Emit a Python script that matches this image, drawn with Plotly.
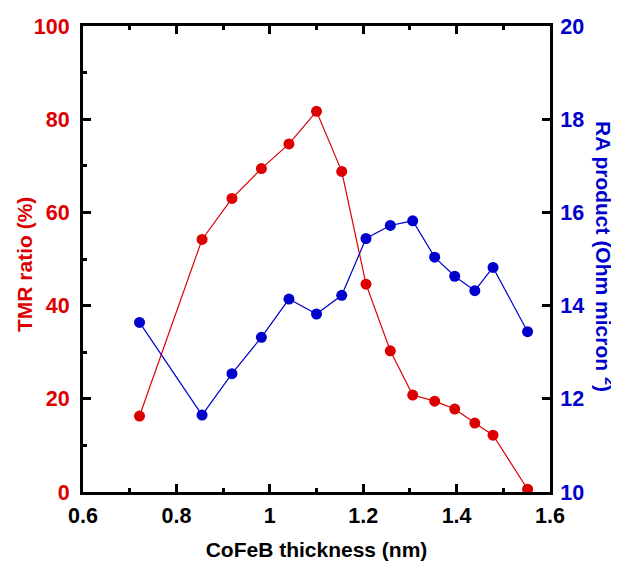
import plotly.graph_objects as go

thickness = [0.721, 0.855, 0.919, 0.982, 1.041, 1.100, 1.154, 1.206, 1.258, 1.306, 1.353, 1.396, 1.439, 1.478, 1.552]
tmr = [16.3, 54.2, 63.0, 69.4, 74.7, 81.7, 68.8, 44.6, 30.3, 20.8, 19.5, 17.8, 14.8, 12.2, 0.6]
ra = [13.64, 11.65, 12.54, 13.32, 14.14, 13.82, 14.22, 15.44, 15.72, 15.82, 15.04, 14.63, 14.32, 14.82, 13.44]
x_ticks = [0.6, 0.8, 1.0, 1.2, 1.4, 1.6]
x_labels = ["0.6", "0.8", "1", "1.2", "1.4", "1.6"]
y_ticks = [0, 20, 40, 60, 80, 100]
y2_ticks = [10, 12, 14, 16, 18, 20]

RED = "rgb(221,0,0)"
BLUE = "rgb(0,0,204)"
FONT = "Liberation Sans, Arial, sans-serif"
TICK_SIZE = 21.5
TITLE_SIZE = 21

fig = go.Figure()
fig.add_trace(go.Scatter(x=thickness, y=tmr, mode="lines+markers",
                         line=dict(color=RED, width=1.2),
                         marker=dict(color=RED, size=11), showlegend=False))
fig.add_trace(go.Scatter(x=thickness, y=ra, mode="lines+markers", yaxis="y2",
                         line=dict(color=BLUE, width=1.2),
                         marker=dict(color=BLUE, size=11), showlegend=False))

def b(t):
    return "<b>" + t + "</b>"

fig.update_layout(
    width=619, height=563,
    margin=dict(l=75, r=77, t=18, b=79),
    paper_bgcolor="white", plot_bgcolor="white",
    font=dict(family=FONT, size=20, color="black"),
    xaxis=dict(range=[0.6, 1.6], tickvals=x_ticks,
               ticktext=[b(t) for t in x_labels], automargin=False,
               showline=True, linecolor="black", linewidth=3, mirror="ticks",
               ticks="inside", ticklen=8, tickwidth=2.5, tickcolor="black",
               minor=dict(dtick=0.1, ticks="inside", ticklen=4, tickwidth=2.5, tickcolor="black"),
               showgrid=False, zeroline=False, ticklabelstandoff=2,
               tickfont=dict(size=TICK_SIZE, color="black"),
               title=dict(text=b("CoFeB thickness (nm)"), font=dict(size=TITLE_SIZE, color="black"), standoff=16)),
    yaxis=dict(range=[0, 100], tickvals=y_ticks, ticktext=[b(str(v)) for v in y_ticks],
               automargin=False,
               showline=True, linecolor="black", linewidth=3,
               ticks="inside", ticklen=8, tickwidth=2.5, tickcolor="black",
               minor=dict(dtick=10, ticks="inside", ticklen=4, tickwidth=2.5, tickcolor="black"),
               showgrid=False, zeroline=False, ticklabelstandoff=6,
               tickfont=dict(size=TICK_SIZE, color=RED)),
    yaxis2=dict(range=[10, 20], tickvals=y2_ticks, ticktext=[b(str(v)) for v in y2_ticks],
                overlaying="y", side="right", automargin=False,
                showline=True, linecolor="black", linewidth=3,
                ticks="inside", ticklen=8, tickwidth=2.5, tickcolor="black",
                showgrid=False, zeroline=False, ticklabelstandoff=3,
                tickfont=dict(size=TICK_SIZE, color=BLUE)),
    annotations=[
        dict(text=b("TMR ratio (%)"), textangle=-90,
             xref="paper", yref="paper", x=0, y=0.5, xshift=-59, yshift=-6,
             xanchor="center", yanchor="middle",
             showarrow=False, font=dict(size=TITLE_SIZE, color=RED)),
        dict(text=b("RA product (Ohm micron <sup>2</sup>)"), textangle=90,
             xref="paper", yref="paper", x=1, y=0.5, xshift=55, yshift=3,
             xanchor="center", yanchor="middle",
             showarrow=False, font=dict(size=TITLE_SIZE, color=BLUE)),
    ],
)

fig.write_html("out.html")
